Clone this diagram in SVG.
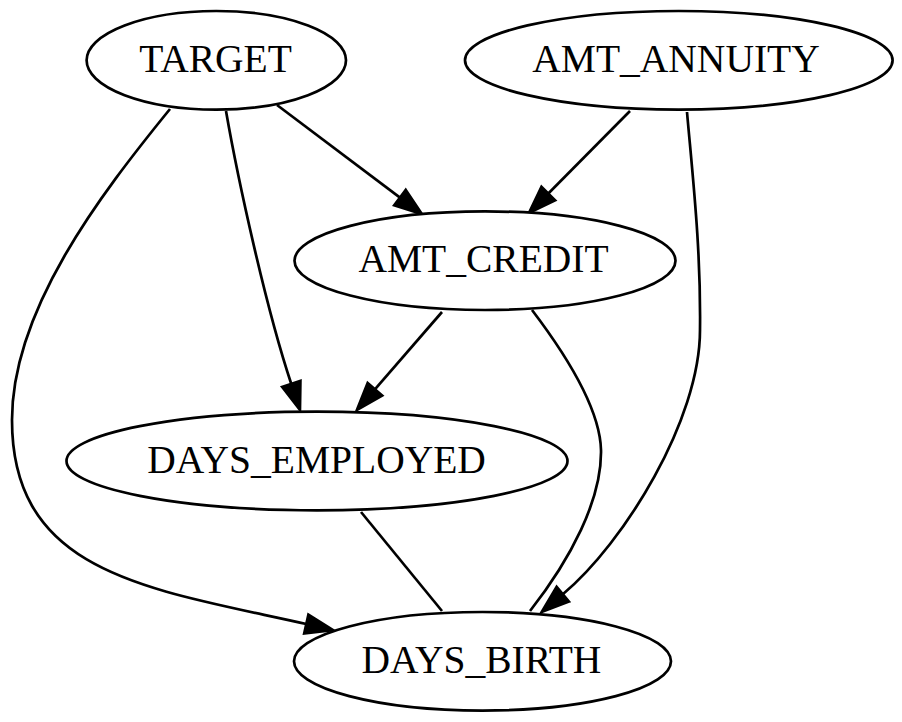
<svg xmlns="http://www.w3.org/2000/svg" width="902" height="722" viewBox="0 0 902 722">
<defs>
<style>
.node ellipse{fill:#fff;stroke:#000;stroke-width:2.7}
.node text{font-family:"Liberation Serif","Times New Roman",serif;font-size:39.5px;fill:#000;text-anchor:middle}
.edge{fill:none;stroke:#000;stroke-width:2.7}
</style>
<marker id="arr" markerUnits="userSpaceOnUse" markerWidth="30" markerHeight="22" refX="0" refY="10" orient="auto" overflow="visible">
<path d="M0,0.4 L27.4,10 L0,19.6 Z" fill="#000" stroke="#000" stroke-width="2.7" stroke-linejoin="miter"/>
</marker>
</defs>
<rect width="902" height="722" fill="#fff"/>
<g id="connectors">
<path class="edge" d="M277,105 L400,197.6" marker-end="url(#arr)"/>
<path class="edge" d="M630,111 L548.3,193.5" marker-end="url(#arr)"/>
<path class="edge" d="M226,111 C238,180 266,308 291.3,384" marker-end="url(#arr)"/>
<path class="edge" d="M442,312 L374.9,389.3" marker-end="url(#arr)"/>
<path class="edge" d="M170,109 C100,195 12,310 12,420 C12,575 150,589 306.3,624" marker-end="url(#arr)"/>
<path class="edge" d="M687,112 C693,180 701,250 700,330 C700,420 624,543 562.8,594.2" marker-end="url(#arr)"/>
<path class="edge" d="M532,310 C570,360 600,410 601,450 C602,500 570,560 530,611"/>
<path class="edge" d="M361,512 L442,611"/>
</g>
<g id="node-TARGET" class="node">
<ellipse cx="216.3" cy="60.3" rx="129.7" ry="49.3"/>
<text x="215.5" y="72">TARGET</text>
</g>
<g id="node-AMT_ANNUITY" class="node">
<ellipse cx="678.8" cy="60.3" rx="213.8" ry="49.3"/>
<text x="676" y="72">AMT_ANNUITY</text>
</g>
<g id="node-AMT_CREDIT" class="node">
<ellipse cx="485" cy="260.7" rx="190.5" ry="49.3"/>
<text x="483.5" y="272.4">AMT_CREDIT</text>
</g>
<g id="node-DAYS_EMPLOYED" class="node">
<ellipse cx="317" cy="461" rx="250.5" ry="49.3"/>
<text x="316.5" y="472.7">DAYS_EMPLOYED</text>
</g>
<g id="node-DAYS_BIRTH" class="node">
<ellipse cx="482.5" cy="661.3" rx="188.5" ry="49.3"/>
<text x="481.5" y="673">DAYS_BIRTH</text>
</g>
</svg>
